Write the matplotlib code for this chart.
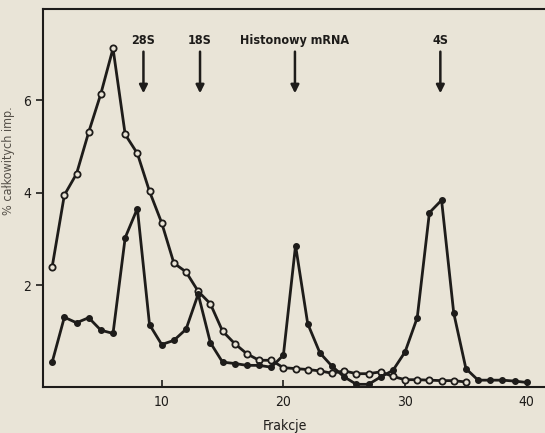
import matplotlib.pyplot as plt

# frakcje i wartosci (% calkowitych impulsow)
frakcje_calk = list(range(1, 36))
calkowite = [2.40, 3.95, 4.41, 5.31, 6.14, 7.12, 5.26, 4.85, 4.03, 3.35,
             2.48, 2.29, 1.87, 1.60, 1.01, 0.74, 0.52, 0.38, 0.38, 0.22,
             0.20, 0.18, 0.15, 0.10, 0.15, 0.09, 0.09, 0.13, 0.03, -0.04,
             -0.04, -0.05, -0.06, -0.06, -0.09]

frakcje_zn = list(range(1, 41))
znakowane = [0.34, 1.31, 1.19, 1.30, 1.03, 0.96, 3.03, 3.66, 1.15, 0.72,
             0.81, 1.05, 1.81, 0.76, 0.34, 0.31, 0.27, 0.27, 0.23, 0.49,
             2.86, 1.17, 0.54, 0.25, 0.02, -0.14, -0.14, 0.02, 0.16, 0.56,
             1.30, 3.57, 3.84, 1.40, 0.20, -0.05, -0.05, -0.05, -0.07, -0.10]

# markery frakcji (strzalki)
markery = ["28S", "18S", "Histonowy mRNA", "4S"]
markery_x = [8.5, 13.15, 20.95, 32.9]

tlo = "#e9e4d7"
kolor = "#1e1c1a"
font = "DejaVu Sans"
waski = "condensed"

fig = plt.figure(figsize=(5.45, 4.33), dpi=100, facecolor=tlo)
ax = fig.add_axes([0.079, 0.106, 0.921, 0.873], facecolor=tlo)

ax.plot(frakcje_calk, calkowite, color=kolor, lw=2.0, marker="o", ms=4.5,
        mfc=tlo, mec=kolor, mew=1.3, zorder=3)
ax.plot(frakcje_zn, znakowane, color=kolor, lw=2.0, marker="o", ms=4,
        mfc=kolor, mec=kolor, zorder=4)

for nazwa, xm in zip(markery, markery_x):
    ax.annotate("", xy=(xm, 6.15), xytext=(xm, 7.05),
                arrowprops=dict(arrowstyle="-|>", color=kolor, lw=1.8,
                                mutation_scale=12, shrinkA=0, shrinkB=0))
    ax.text(xm, 7.3, nazwa, ha="center", va="center", fontsize=9,
            fontweight="bold", family=font, stretch=waski, color=kolor)

ax.set_xlim(0.25, 41.5)
ax.set_ylim(-0.2, 7.97)
ax.set_xticks([10, 20, 30, 40])
ax.set_yticks([2, 4, 6])
ax.tick_params(axis="x", direction="in", length=5, width=1.2, colors=kolor,
               labelsize=10, pad=6)
ax.tick_params(axis="y", direction="out", length=5, width=1.2, colors=kolor,
               labelsize=10)
for lab in ax.get_xticklabels() + ax.get_yticklabels():
    lab.set_family(font)
    lab.set_stretch(waski)

for s in ["left", "bottom", "top"]:
    ax.spines[s].set_linewidth(1.5)
    ax.spines[s].set_color(kolor)
ax.spines["right"].set_visible(False)

ax.set_xlabel("Frakcje", fontsize=10, family=font, stretch=waski, color=kolor)
ax.xaxis.set_label_coords(0.482, -0.085)
ax.set_ylabel("% całkowitych imp.", fontsize=9, family=font, stretch=waski,
              color="#555048")
ax.yaxis.set_label_coords(-0.056, 0.6)

fig.savefig("out.png", dpi=100, facecolor=tlo)
